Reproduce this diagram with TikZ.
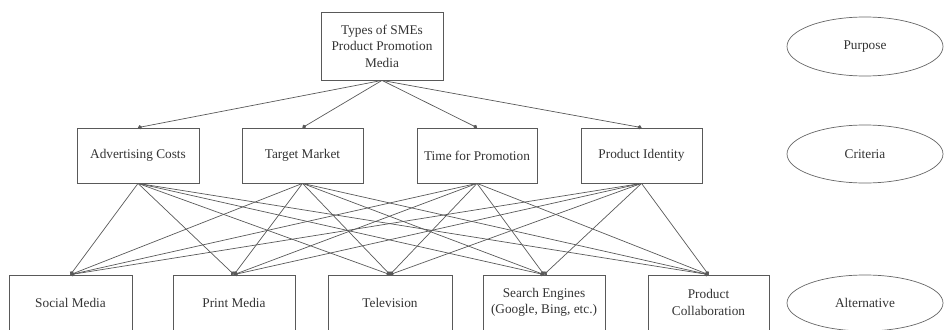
\documentclass[tikz,border=0pt]{standalone}
\usepackage{fontspec}
\setmainfont{Liberation Serif}
\usetikzlibrary{arrows.meta,shapes.geometric}
\begin{document}
\begin{tikzpicture}[x=1pt,y=-1pt,
  every node/.style={font=\fontsize{13.3}{16.5}\selectfont, text=black!80},
  box/.style={draw=black!65, line width=0.8pt, rectangle, inner sep=0pt, align=center, minimum height=55pt, minimum width=122pt},
  topbox/.style={box, minimum height=68pt},
  lvl/.style={draw=black!60, line width=0.7pt, ellipse, inner sep=0pt, minimum width=156pt, minimum height=58pt},
  conn/.style={draw=black!65, line width=0.7pt, -{Circle[length=4pt]}}
]
\useasboundingbox (0,0) rectangle (944,329);
\node[topbox] (goal) at (382,46) {Types of SMEs\\Product Promotion\\Media};
\node[box] (adv) at (138,155.5) {Advertising Costs};
\node[box, minimum width=121pt] (tm) at (302.5,155.5) {Target Market};
\node[box, minimum width=120pt] (tfp) at (477,155.5) {Time for Promotion};
\node[box, minimum width=121pt] (pid) at (641.5,155.5) {Product Identity};
\node[box, minimum width=123pt] (sm) at (70.5,302.5) {Social Media};
\node[box] (pm) at (234,302.5) {Print Media};
\node[box, minimum width=124pt] (tv) at (390,302.5) {Television};
\node[box] (se) at (544,302.5) {Search Engines\\(Google, Bing, etc.)};
\node[box, minimum width=121pt] (pc) at (708.5,302.5) {Product\\Collaboration};
\node[lvl, minimum height=59pt] (lp) at (865,46.5) {Purpose};
\node[lvl] (lc) at (865,154) {Criteria};
\node[lvl, minimum height=56pt] (la) at (865,303) {Alternative};
\foreach \c in {adv,tm,tfp,pid}{
  \draw[conn] (goal.south) -- (\c.north);
  \foreach \a in {sm,pm,tv,se,pc}{
    \draw[conn] (\c.south) -- (\a.north);
  }
}
\end{tikzpicture}
\end{document}
